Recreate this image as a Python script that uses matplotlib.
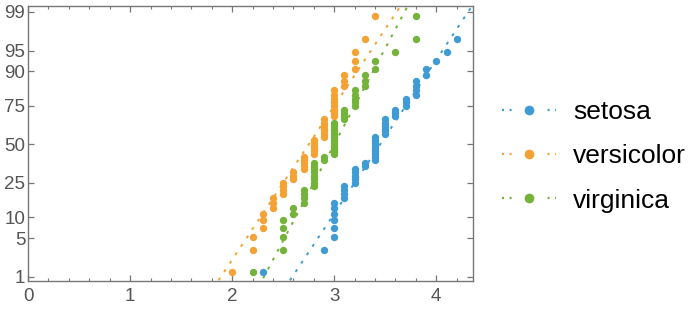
import numpy as np
import matplotlib.pyplot as plt
from matplotlib.lines import Line2D
from statistics import NormalDist

# sepal width of the three iris species (sorted)
setosa = [2.3, 2.9, 3.0, 3.0, 3.0, 3.0, 3.0, 3.0, 3.1, 3.1, 3.1, 3.1,
          3.2, 3.2, 3.2, 3.2, 3.2, 3.3, 3.3, 3.4, 3.4, 3.4, 3.4, 3.4,
          3.4, 3.4, 3.4, 3.4, 3.5, 3.5, 3.5, 3.5, 3.5, 3.5, 3.6, 3.6,
          3.6, 3.7, 3.7, 3.7, 3.8, 3.8, 3.8, 3.8, 3.9, 3.9, 4.0, 4.1,
          4.2, 4.4]
versicolor = [2.0, 2.2, 2.2, 2.3, 2.3, 2.3, 2.4, 2.4, 2.4, 2.5, 2.5, 2.5,
              2.5, 2.6, 2.6, 2.6, 2.7, 2.7, 2.7, 2.7, 2.7, 2.8, 2.8, 2.8,
              2.8, 2.8, 2.8, 2.9, 2.9, 2.9, 2.9, 2.9, 2.9, 2.9, 3.0, 3.0,
              3.0, 3.0, 3.0, 3.0, 3.0, 3.0, 3.1, 3.1, 3.1, 3.2, 3.2, 3.2,
              3.3, 3.4]
virginica = [2.2, 2.5, 2.5, 2.5, 2.5, 2.6, 2.6, 2.7, 2.7, 2.7, 2.7, 2.8,
             2.8, 2.8, 2.8, 2.8, 2.8, 2.8, 2.8, 2.9, 2.9, 3.0, 3.0, 3.0,
             3.0, 3.0, 3.0, 3.0, 3.0, 3.0, 3.0, 3.0, 3.0, 3.1, 3.1, 3.1,
             3.1, 3.2, 3.2, 3.2, 3.2, 3.2, 3.3, 3.3, 3.3, 3.4, 3.4, 3.6,
             3.8, 3.8]

names = ['setosa', 'versicolor', 'virginica']
colors = ['#3f9bd3', '#f4a233', '#74b33a']
pct_ticks = [1, 5, 10, 25, 50, 75, 90, 95, 99]

nd = NormalDist()
plt.rcParams['font.family'] = ['Liberation Sans', 'DejaVu Sans']

fig = plt.figure(figsize=(6.97, 3.13), dpi=100)
ax = fig.add_axes([0.0402, 0.102, 0.6388, 0.879])

handles = []
for vals, name, col in zip([setosa, versicolor, virginica], names, colors):
    n = len(vals)
    z = [nd.inv_cdf((i - 0.375) / (n + 0.25)) for i in range(1, n + 1)]  # blom positions
    ax.plot(vals, z, 'o', color=col, ms=5.3, mew=0, zorder=3)
    # reference line through the quartiles
    q1, q3 = np.quantile(vals, [0.25, 0.75], method='hazen')
    slope = (q3 - q1) / (2 * nd.inv_cdf(0.75))
    zz = np.array([-3.0, 3.0])
    ax.plot((q1 + q3) / 2 + slope * zz, zz, color=col, lw=1.4,
            linestyle=(0, (1.5, 3.7)), dash_capstyle='butt', zorder=2)
    # legend key: two dashes each side of the dot
    handles.append(Line2D([], [], color=col, lw=1.6,
                          linestyle=(0, (0.9, 2.5, 0.9, 16.2, 0.9, 2.5, 0.9, 60)),
                          dash_capstyle='butt', marker='o', ms=7, mew=0))

ax.set_xlim(0, 4.362)
ax.set_ylim(-2.398, 2.428)

frame_col = '#777777'
for sp in ax.spines.values():
    sp.set_color(frame_col)
    sp.set_linewidth(1.0)

ax.set_xticks([0, 1, 2, 3, 4])
ax.set_xticks(np.arange(0, 4.4, 0.2), minor=True)
ax.set_yticks([nd.inv_cdf(p / 100) for p in pct_ticks])
ax.set_yticklabels([str(p) for p in pct_ticks])
ax.tick_params(which='both', direction='in', top=True, right=True,
               color=frame_col, labelcolor='#555555', labelsize=13.5)
ax.tick_params(which='major', length=4.5, width=0.9)
ax.tick_params(which='minor', length=2.5, width=0.8)
ax.tick_params(axis='x', pad=5)
ax.tick_params(axis='y', pad=2)

fig.legend(handles, names, loc='center left', bbox_to_anchor=(0.686, 0.501),
           frameon=False, fontsize=19, handlelength=2.05, handletextpad=0.64,
           labelspacing=0.77, numpoints=1)

fig.savefig('out.png', dpi=100)
